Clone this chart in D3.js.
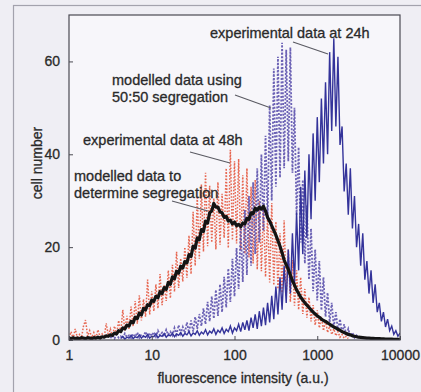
<!DOCTYPE html>
<html>
<head>
<meta charset="utf-8">
<script src="https://cdn.jsdelivr.net/npm/d3@7"></script>
<style>
  html, body { margin: 0; padding: 0; background: #efeef4; }
  svg { display: block; }
  text { font-family: "Liberation Sans", Arial, sans-serif; fill: #2a2a2a; stroke: #2a2a2a; stroke-width: 0.3; }
</style>
</head>
<body>
<svg id="chart" width="421" height="392"></svg>
<script>
// Histogram channels: 40 log-spaced channels per decade, channel k sits at 10^(k/40)
const channelsPerDecade = 40;

// experimental data at 48h (starts at channel 0)
const exp48hStart = 0;
const exp48h = [
  0.5,1.8,0.3,2.4,0.6,1.2,0.4,3.0,4.3,0.8,
  2.0,0.5,1.6,0.4,2.2,0.7,1.3,0.5,3.6,1.0,
  2.4,0.8,3.0,1.2,4.2,1.5,6.5,2.0,5.2,2.4,
  7.2,3.0,8.4,3.5,9.6,4.2,8.8,5.0,13.0,5.5,
  10.5,6.2,12.0,6.8,14.2,7.5,11.8,8.4,15.0,9.0,
  16.2,10.4,19.0,11.2,17.6,12.6,20.0,13.4,22.5,14.2,
  27.6,16.0,31.0,17.5,33.5,19.0,36.0,20.2,33.2,21.0,
  30.5,19.5,34.0,20.5,31.5,22.0,37.0,19.8,41.0,21.5,
  38.5,20.8,39.0,19.4,35.5,18.6,37.0,17.8,33.0,16.5,
  34.5,15.2,30.0,14.8,28.5,13.6,27.0,12.4,29.5,11.8,
  25.5,11.0,23.0,10.2,25.8,9.5,19.5,8.2,17.2,7.4,
  15.0,6.5,13.5,5.6,11.0,4.8,9.2,4.0,7.5,3.2,
  6.4,2.6,5.0,2.0,4.2,1.6,3.0,1.2,2.4,0.9,
  1.8,0.6,1.2,0.4,0.8,0.3
];

// modelled data using 50:50 segregation (starts at channel 20)
const model5050Start = 20;
const model5050 = [
  0.4,1.0,0.3,1.2,0.5,0.8,0.3,1.4,0.6,1.0,
  0.4,1.3,0.7,1.6,0.5,1.2,0.8,1.8,0.6,1.5,
  0.9,1.7,0.7,2.0,1.0,1.6,0.8,2.2,1.1,1.8,
  1.0,2.6,1.2,3.2,1.4,2.8,1.5,3.8,1.6,4.2,
  1.8,5.0,2.4,5.6,3.0,6.8,3.4,8.2,4.0,9.4,
  4.6,10.8,5.2,12.0,6.0,13.6,7.0,15.4,8.2,17.5,
  9.4,19.8,11.0,24.0,12.5,28.0,14.0,31.0,16.0,34.0,
  18.5,37.0,21.0,40.0,23.5,44.0,26.0,50.5,30.0,58.5,
  33.0,61.0,35.0,64.0,37.0,62.5,38.5,63.0,36.0,50.0,
  27.0,41.5,21.0,34.5,16.5,29.0,13.0,24.0,10.5,19.5,
  8.5,17.0,6.4,13.5,5.0,10.2,3.8,8.0,2.8,6.0,
  2.0,4.5,1.4,3.4,1.0,2.4,0.8,1.6,0.5,1.0,0.4
];

// experimental data at 24h (starts at channel 25)
const exp24hStart = 25;
const exp24h = [
  0.3,0.8,0.2,0.6,0.4,1.0,0.3,0.7,0.5,1.1,
  0.4,0.9,0.6,1.2,0.4,0.8,0.7,1.3,0.5,1.0,
  0.8,1.4,0.6,1.1,0.9,1.5,0.7,1.3,1.0,1.6,
  0.8,1.4,1.1,1.8,0.9,1.5,1.2,2.0,1.0,1.7,
  1.3,2.2,1.1,1.9,1.5,2.4,1.2,2.1,1.6,2.6,
  1.4,2.3,1.8,3.0,1.5,2.6,2.0,3.4,1.8,3.8,
  2.2,4.2,2.0,4.8,2.6,5.5,2.4,6.2,3.0,7.0,
  3.2,8.0,3.8,9.5,4.5,11.5,5.5,13.5,6.5,16.0,
  8.0,19.5,10.0,23.0,12.0,27.5,15.0,33.0,18.5,36.5,
  22.0,40.0,26.0,44.5,30.0,48.0,34.0,52.0,38.0,55.5,
  40.0,62.0,45.0,65.0,46.0,61.0,42.0,46.0,32.0,38.0,
  27.0,37.0,24.0,31.0,20.0,25.0,16.0,23.0,13.0,17.0,
  10.0,15.0,8.0,12.0,6.0,8.0,4.0,6.0,2.8,4.5,
  2.0,3.0,1.2,2.0,0.8,1.5
];

// modelled data to determine segregation (starts at channel 0)
const modelFitStart = 0;
const modelFit = [
  0.4,0.3,0.5,0.3,0.4,0.3,0.5,0.4,0.3,0.5,
  0.4,0.3,0.5,0.4,0.6,0.4,0.7,0.6,0.9,0.8,
  1.1,1.0,1.5,1.3,2.0,1.8,2.6,2.4,3.2,3.0,
  4.0,3.7,4.9,4.6,5.8,5.4,6.8,6.5,7.6,7.4,
  8.6,8.3,9.4,9.1,10.4,10.0,11.3,10.9,12.4,12.0,
  13.6,13.2,14.8,14.4,15.9,15.5,16.9,16.6,18.4,18.0,
  20.2,19.8,22.0,21.6,23.8,23.4,25.6,25.2,27.4,27.8,
  29.4,28.6,28.6,27.6,27.4,26.4,26.6,25.6,25.8,25.0,
  25.4,24.6,24.9,24.4,25.2,25.0,26.2,26.0,27.4,27.2,
  28.4,28.0,28.6,28.2,28.8,27.8,26.4,25.6,24.6,23.6,
  22.6,21.4,20.2,18.8,17.2,16.2,15.2,14.0,12.8,11.8,
  10.8,10.0,9.2,8.6,8.0,7.5,7.0,6.5,6.0,5.6,
  5.2,4.9,4.5,4.2,4.0,3.7,3.4,3.1,2.8,2.6,
  2.3,2.1,1.8,1.6,1.4,1.2,1.1,0.9,0.8,0.7,
  0.6,0.55,0.5,0.45,0.4,0.4,0.35,0.35,0.3,0.3,
  0.3,0.25,0.25,0.2,0.2,0.2,0.2,0.15,0.15,0.15,0.1
];

const xTicks = [1, 10, 100, 1000, 10000];
const yTicks = [0, 20, 40, 60];

const annotations = [
  { lines: ["experimental data at 24h"], x: 210, y: 38, from: [293, 42], to: [328, 54] },
  { lines: ["modelled data using", "50:50 segregation"], x: 112, y: 85, from: [235, 95], to: [271, 108] },
  { lines: ["experimental data at 48h"], x: 83, y: 145, from: [190, 152], to: [230, 163] },
  { lines: ["modelled data to", "determine segregation"], x: 74, y: 181, from: [172, 201], to: [208, 211] }
];

const svg = d3.select("#chart");
const plot = { left: 69, right: 400, top: 15, bottom: 340 };

const x = d3.scaleLog().domain([1, 10000]).range([plot.left, plot.right]);
const y = d3.scaleLinear().domain([0, 70]).range([plot.bottom, plot.top]);

// outer figure frame
svg.append("rect")
  .attr("x", 13.5).attr("y", 5.5).attr("width", 440).attr("height", 420)
  .attr("fill", "none").attr("stroke", "#a3a2ad").attr("stroke-width", 1.2);

// plot background
svg.append("rect")
  .attr("x", plot.left).attr("y", plot.top)
  .attr("width", plot.right - plot.left).attr("height", plot.bottom - plot.top)
  .attr("fill", "#f7f6fa");

svg.append("clipPath").attr("id", "plotClip")
  .append("rect")
  .attr("x", plot.left).attr("y", plot.top)
  .attr("width", plot.right - plot.left).attr("height", plot.bottom - plot.top);

const toPoints = (start, arr) => arr.map((v, i) => ({ c: Math.pow(10, (start + i) / channelsPerDecade), v }));
const line = d3.line().x(d => x(d.c)).y(d => y(d.v));

const g = svg.append("g").attr("clip-path", "url(#plotClip)");

g.append("path")
  .attr("d", line(toPoints(exp48hStart, exp48h)))
  .attr("fill", "none").attr("stroke", "#e4583f").attr("stroke-width", 1.5)
  .attr("stroke-dasharray", "1.6,1.6").attr("opacity", 0.9);

g.append("path")
  .attr("d", line(toPoints(model5050Start, model5050)))
  .attr("fill", "none").attr("stroke", "#5c52ad").attr("stroke-width", 1.8)
  .attr("stroke-dasharray", "2,1.6").attr("opacity", 0.9);

g.append("path")
  .attr("d", line(toPoints(exp24hStart, exp24h)))
  .attr("fill", "none").attr("stroke", "#34339a").attr("stroke-width", 1.4);

g.append("path")
  .attr("d", line(toPoints(modelFitStart, modelFit)))
  .attr("fill", "none").attr("stroke", "#141414").attr("stroke-width", 3.2)
  .attr("stroke-linejoin", "round");

// plot frame
svg.append("rect")
  .attr("x", plot.left).attr("y", plot.top)
  .attr("width", plot.right - plot.left).attr("height", plot.bottom - plot.top)
  .attr("fill", "none").attr("stroke", "#4a4a52").attr("stroke-width", 1.2);

// axes
const yAxis = svg.append("g").attr("transform", `translate(${plot.left},0)`)
  .call(d3.axisLeft(y).tickValues(yTicks).tickSizeInner(-4).tickSizeOuter(0).tickPadding(9));
const xAxis = svg.append("g").attr("transform", `translate(0,${plot.bottom})`)
  .call(d3.axisBottom(x).tickValues(xTicks).tickFormat(d3.format("d")).tickSizeInner(-4).tickSizeOuter(0).tickPadding(10));
[yAxis, xAxis].forEach(a => {
  a.select(".domain").remove();
  a.selectAll(".tick line").attr("stroke", "#4a4a52");
  a.selectAll(".tick text").attr("font-size", 14).attr("fill", "#2a2a2a")
    .style("font-family", "'Liberation Sans', Arial, sans-serif");
});

// axis titles
svg.append("text")
  .attr("transform", "translate(42,163) rotate(-90)")
  .attr("text-anchor", "middle").attr("font-size", 14)
  .text("cell number");
svg.append("text")
  .attr("x", 243).attr("y", 383)
  .attr("text-anchor", "middle").attr("font-size", 14)
  .text("fluorescence intensity (a.u.)");

// annotations with leader lines
annotations.forEach(a => {
  svg.append("line")
    .attr("x1", a.from[0]).attr("y1", a.from[1])
    .attr("x2", a.to[0]).attr("y2", a.to[1])
    .attr("stroke", "#5a5a62").attr("stroke-width", 1.1);
  const t = svg.append("text").attr("font-size", 14.5).attr("x", a.x).attr("y", a.y);
  a.lines.forEach((s, i) => {
    t.append("tspan").attr("x", a.x).attr("dy", i === 0 ? 0 : 17).text(s);
  });
});
</script>
</body>
</html>
